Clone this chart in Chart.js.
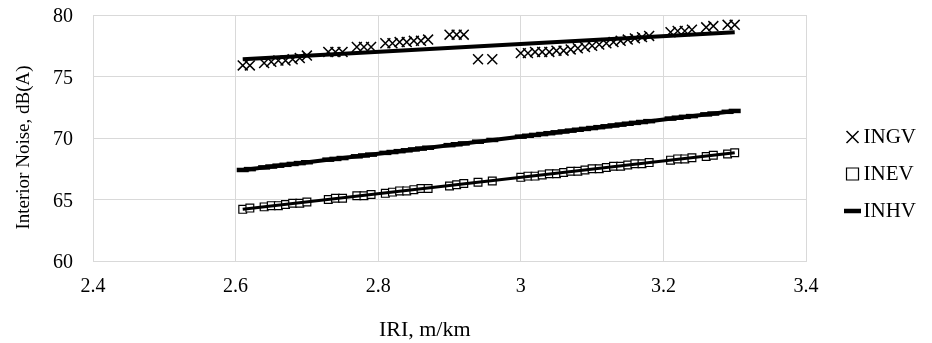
<!DOCTYPE html>
<html>
<head>
<meta charset="utf-8">
<script src="https://cdn.jsdelivr.net/npm/chart.js@4/dist/chart.umd.min.js"></script>
<style>
  html, body { margin: 0; padding: 0; background: #ffffff; }
  #wrap { width: 932px; height: 343px; position: relative; }
</style>
</head>
<body>
<div id="wrap"><canvas id="c" width="932" height="343"></canvas></div>
<script>
// ---- data ----
const IRI = [2.61, 2.62, 2.64, 2.65, 2.66, 2.67, 2.68, 2.69, 2.70, 2.73, 2.74, 2.75, 2.77, 2.78, 2.79,
             2.81, 2.82, 2.83, 2.84, 2.85, 2.86, 2.87, 2.90, 2.91, 2.92, 2.94, 2.96,
             3.00, 3.01, 3.02, 3.03, 3.04, 3.05, 3.06, 3.07, 3.08, 3.09, 3.10, 3.11, 3.12, 3.13,
             3.14, 3.15, 3.16, 3.17, 3.18, 3.21, 3.22, 3.23, 3.24, 3.26, 3.27, 3.29, 3.30];
const INGV = [75.9, 75.9, 76.1, 76.2, 76.3, 76.3, 76.4, 76.5, 76.7, 77.0, 77.0, 77.0, 77.4, 77.4, 77.4,
              77.7, 77.7, 77.8, 77.8, 77.9, 77.9, 78.0, 78.4, 78.4, 78.4, 76.4, 76.4,
              76.9, 76.9, 77.0, 77.0, 77.0, 77.1, 77.1, 77.2, 77.3, 77.4, 77.5, 77.6, 77.7, 77.8,
              77.9, 78.0, 78.1, 78.2, 78.3, 78.6, 78.7, 78.7, 78.8, 79.0, 79.1, 79.2, 79.2];
const INEV = [64.2, 64.3, 64.4, 64.5, 64.5, 64.6, 64.7, 64.7, 64.8, 65.0, 65.1, 65.1, 65.3, 65.3, 65.4,
              65.5, 65.6, 65.7, 65.7, 65.8, 65.9, 65.9, 66.1, 66.2, 66.3, 66.4, 66.5,
              66.8, 66.9, 66.9, 67.0, 67.1, 67.1, 67.2, 67.3, 67.3, 67.4, 67.5, 67.5, 67.6, 67.7,
              67.7, 67.8, 67.9, 67.9, 68.0, 68.2, 68.3, 68.3, 68.4, 68.5, 68.6, 68.7, 68.8];
const INHV = [67.4, 67.47, 67.61, 67.68, 67.75, 67.82, 67.89, 67.96, 68.03, 68.24, 68.3, 68.37, 68.51, 68.58, 68.65,
              68.79, 68.86, 68.93, 69.0, 69.07, 69.14, 69.21, 69.42, 69.49, 69.56, 69.7, 69.84,
              70.11, 70.18, 70.25, 70.32, 70.39, 70.46, 70.53, 70.6, 70.67, 70.74, 70.81, 70.88, 70.95, 71.02,
              71.09, 71.16, 71.23, 71.3, 71.37, 71.58, 71.65, 71.72, 71.78, 71.92, 71.99, 72.13, 72.2];
const trendX = [2.61, 3.30];
const trendINGV = [76.4, 78.6];
const trendINEV = [64.2, 68.8];
const trendINHV = [67.4, 72.2];
const seriesNames = ['INGV', 'INEV', 'INHV'];
const xTickLabels = ['2.4', '2.6', '2.8', '3', '3.2', '3.4'];
const yTickLabels = ['60', '65', '70', '75', '80'];
const xTitle = 'IRI, m/km';
const yTitle = 'Interior Noise, dB(A)';

// ---- build ----
const pts = (xs, ys) => xs.map((x, i) => ({ x: x, y: ys[i] }));
const FONT = "'Liberation Serif', 'Times New Roman', serif";
const GRID = '#d9d9d9';
Chart.defaults.font.family = FONT;
Chart.defaults.color = '#000000';

new Chart(document.getElementById('c'), {
  type: 'scatter',
  data: {
    datasets: [
      { label: seriesNames[0], data: pts(IRI, INGV), xAxisID: 'x', yAxisID: 'y',
        pointStyle: 'crossRot', pointRadius: 7, pointHoverRadius: 7, pointBorderWidth: 1.5,
        borderColor: '#000', backgroundColor: '#000', pointBorderColor: '#000', order: 0 },
      { label: seriesNames[1], data: pts(IRI, INEV), xAxisID: 'x', yAxisID: 'y',
        pointStyle: 'rect', pointRadius: 5.5, pointHoverRadius: 5.5, pointBorderWidth: 1.2,
        borderColor: '#000', pointBorderColor: '#000', pointBackgroundColor: '#fff', backgroundColor: '#fff', order: 0 },
      { label: seriesNames[2], data: pts(IRI, INHV), xAxisID: 'x', yAxisID: 'y',
        pointStyle: 'line', pointRadius: 6, pointHoverRadius: 6, pointBorderWidth: 4.5,
        borderColor: '#000', pointBorderColor: '#000', backgroundColor: '#000', order: 0 },
      { label: 'trend INGV', data: pts(trendX, trendINGV), xAxisID: 'x', yAxisID: 'y',
        showLine: true, pointRadius: 0, borderWidth: 4, borderColor: '#000', order: -1 },
      { label: 'trend INEV', data: pts(trendX, trendINEV), xAxisID: 'x', yAxisID: 'y',
        showLine: true, pointRadius: 0, borderWidth: 3, borderColor: '#000', order: -1 },
      { label: 'trend INHV', data: pts(trendX, trendINHV), xAxisID: 'x', yAxisID: 'y',
        showLine: true, pointRadius: 0, borderWidth: 4, borderColor: '#000', order: 1 }
    ]
  },
  options: {
    responsive: false,
    animation: false,
    events: [],
    layout: { padding: { top: 5, right: 6, bottom: 0, left: 0 } },
    plugins: {
      tooltip: { enabled: false },
      legend: {
        display: true,
        position: 'right',
        align: 'center',
        labels: {
          usePointStyle: true,
          boxWidth: 1,
          boxHeight: 12,
          padding: 16,
          color: '#000',
          font: { family: FONT, size: 21 },
          filter: (item) => item.datasetIndex < 3
        }
      }
    },
    scales: {
      x: {
        type: 'linear', position: 'bottom', min: 2.4, max: 3.4,
        afterFit: (s) => { s.height = 82; },
        ticks: { stepSize: 0.2, padding: 14, color: '#000', font: { family: FONT, size: 20 },
                 callback: (v, i) => xTickLabels[i] },
        grid: { color: GRID, lineWidth: 1, drawTicks: false },
        border: { color: GRID, width: 1 },
        title: { display: true, text: xTitle + '         ', color: '#000', font: { family: FONT, size: 22 },
                 padding: { top: 0, bottom: 0 } }
      },
      y: {
        type: 'linear', position: 'left', min: 60, max: 80,
        afterFit: (s) => { s.width = 93; },
        ticks: { stepSize: 5, padding: 3, labelOffset: 2, color: '#000', font: { family: FONT, size: 20 },
                 callback: (v, i) => yTickLabels[i] },
        grid: { color: GRID, lineWidth: 1, drawTicks: true, tickLength: 17, tickColor: 'rgba(0,0,0,0)' },
        border: { color: GRID, width: 1 },
        title: { display: true, text: yTitle + '    ', color: '#000', font: { family: FONT, size: 19 },
                 padding: { top: 13, bottom: 0 } }
      },
      yRight: {
        type: 'linear', position: 'right', display: true,
        afterFit: (s) => { s.width = 30; },
        ticks: { display: false }, grid: { display: false }, border: { display: false }
      }
    }
  }
});
</script>
</body>
</html>
